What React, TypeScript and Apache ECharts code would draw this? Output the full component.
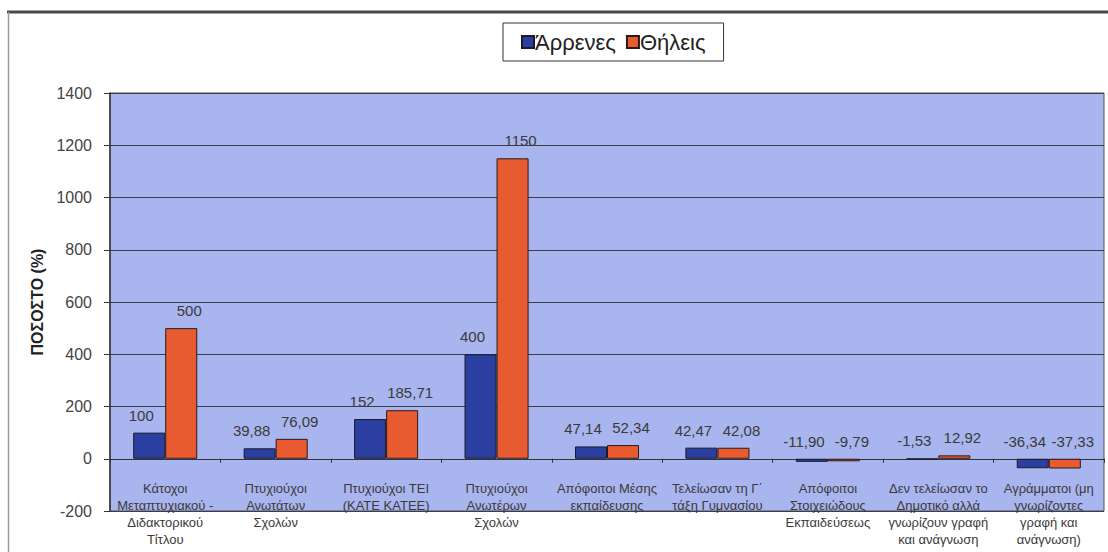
import React, { useEffect, useRef } from "react";
import * as echarts from "echarts";

const categories = [
  "Κάτοχοι\nΜεταπτυχιακού -\nΔιδακτορικού\nΤίτλου",
  "Πτυχιούχοι\nΑνωτάτων\nΣχολών",
  "Πτυχιούχοι ΤΕΙ\n(ΚΑΤΕ ΚΑΤΕΕ)",
  "Πτυχιούχοι\nΑνωτέρων\nΣχολών",
  "Απόφοιτοι Μέσης\nεκπαίδευσης",
  "Τελείωσαν τη Γ΄\nτάξη Γυμνασίου",
  "Απόφοιτοι\nΣτοιχειώδους\nΕκπαιδεύσεως",
  "Δεν τελείωσαν το\nΔημοτικό αλλά\nγνωρίζουν γραφή\nκαι ανάγνωση",
  "Αγράμματοι (μη\nγνωρίζοντες\nγραφή και\nανάγνωση)",
];

const males = [100, 39.88, 152, 400, 47.14, 42.47, -11.9, -1.53, -36.34];
const females = [500, 76.09, 185.71, 1150, 52.34, 42.08, -9.79, 12.92, -37.33];

const seriesNames = ["Άρρενες", "Θήλεις"];
const yMin = -200;
const yMax = 1400;
const yStep = 200;

const FONT = "Liberation Sans, Arial, sans-serif";

const fmt = (v: number) =>
  Number.isInteger(v) ? String(v) : v.toFixed(2).replace(".", ",");

export default function App() {
  const ref = useRef<HTMLDivElement>(null);

  useEffect(() => {
    if (!ref.current) return;
    const chart = echarts.init(ref.current, null, { renderer: "svg" });
    const gridTop = 93;
    const gridBottom = 41;
    const gridH = 552 - gridTop - gridBottom;
    // place the category axis on the zero value line
    const zeroOffset = -gridH * ((0 - yMin) / (yMax - yMin));
    const labelCfg = (dx: number) => ({
      show: true,
      position: "top",
      distance: 10,
      offset: [dx, 0],
      color: "#3a3a3a",
      fontSize: 15,
      fontFamily: FONT,
      formatter: (p: any) => fmt(p.value),
    });
    chart.setOption({
      animation: false,
      backgroundColor: "#ffffff",
      textStyle: { fontFamily: FONT },
      graphic: [
        {
          type: "line",
          shape: { x1: 7, y1: 12, x2: 1108, y2: 12 },
          style: { stroke: "#4a4a4a", lineWidth: 3 },
          z: 10,
        },
        {
          type: "line",
          shape: { x1: 8.5, y1: 12, x2: 8.5, y2: 552 },
          style: { stroke: "#9a9a9a", lineWidth: 1.5 },
          z: 10,
        },
      ],
      legend: {
        top: 23,
        left: 503,
        data: seriesNames,
        icon: "rect",
        itemWidth: 12,
        itemHeight: 12,
        itemGap: 10,
        borderColor: "#333333",
        borderWidth: 1,
        padding: [8, 18, 8, 18],
        textStyle: { fontSize: 22, color: "#222", fontFamily: FONT, padding: [0, 0, 0, -4] },
      },
      grid: {
        left: 110,
        right: 4,
        top: gridTop,
        bottom: gridBottom,
        show: true,
        backgroundColor: "#a9b5ee",
        borderColor: "#555",
        borderWidth: 1,
        containLabel: false,
        outerBoundsMode: "none",
      },
      xAxis: {
        type: "category",
        data: categories,
        offset: zeroOffset,
        axisLine: { onZero: false, lineStyle: { color: "#333", width: 1 } },
        axisTick: { show: true, length: 4, lineStyle: { color: "#333" } },
        axisLabel: {
          interval: 0,
          margin: 21,
          fontSize: 13,
          lineHeight: 17,
          color: "#3a3a3a",
          fontFamily: FONT,
        },
      },
      yAxis: {
        type: "value",
        min: yMin,
        max: yMax,
        interval: yStep,
        name: "ΠΟΣΟΣΤΟ (%)",
        nameLocation: "middle",
        nameGap: 58,
        nameTextStyle: { fontSize: 16, fontWeight: "bold", color: "#222", fontFamily: FONT },
        axisLine: { show: true, lineStyle: { color: "#333", width: 1.5 } },
        axisTick: { show: true, length: 6, lineStyle: { color: "#333" } },
        axisLabel: {
          fontSize: 16,
          color: "#444",
          margin: 18,
          fontFamily: FONT,
          formatter: (v: number) => String(v),
        },
        splitLine: { show: true, lineStyle: { color: "#3c3c4a", width: 1 } },
      },
      series: [
        {
          name: seriesNames[0],
          type: "bar",
          data: males,
          barGap: "0%",
          barCategoryGap: "42%",
          itemStyle: { color: "#2a3f9f", borderColor: "#1a1a2a", borderWidth: 1 },
          label: labelCfg(-8),
        },
        {
          name: seriesNames[1],
          type: "bar",
          data: females,
          barGap: "0%",
          barCategoryGap: "42%",
          itemStyle: { color: "#e85a30", borderColor: "#2a1a1a", borderWidth: 1 },
          label: labelCfg(8),
        },
      ],
    });
    return () => chart.dispose();
  }, []);

  return (
    <div
      ref={ref}
      style={{ position: "fixed", left: 0, top: 0, width: 1108, height: 552 }}
    />
  );
}
